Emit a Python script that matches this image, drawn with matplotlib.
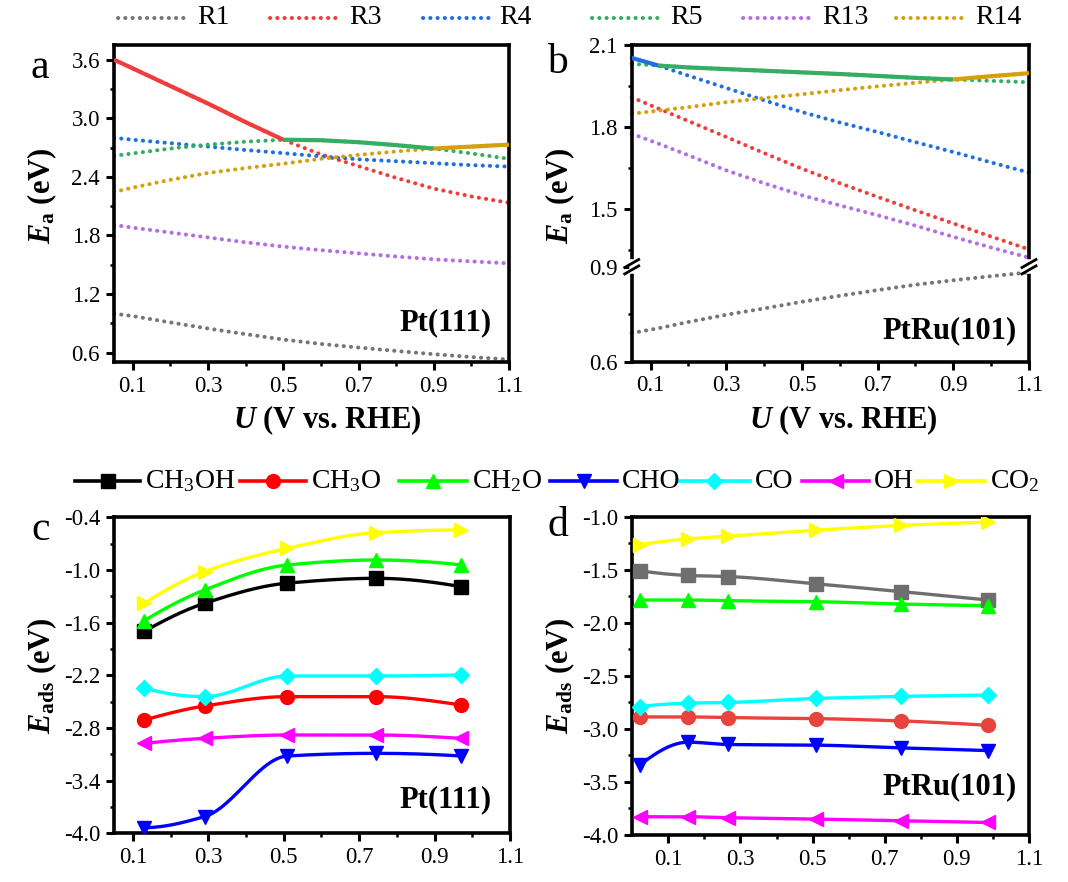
import numpy as np
import matplotlib
matplotlib.use("Agg")
import matplotlib.pyplot as plt
from matplotlib.lines import Line2D
from matplotlib.ticker import MultipleLocator, FixedLocator

plt.rcParams['font.family'] = ['Liberation Serif', 'DejaVu Serif']
plt.rcParams['mathtext.fontset'] = 'custom'
plt.rcParams['mathtext.rm'] = 'Liberation Serif'
plt.rcParams['mathtext.it'] = 'Liberation Serif:italic'
plt.rcParams['mathtext.bf'] = 'Liberation Serif:bold'
plt.rcParams['mathtext.bfit'] = 'Liberation Serif:italic:bold'
plt.rcParams['axes.unicode_minus'] = False

# ---------------- data : panel a (Pt(111)) ----------------
X_A = [0.05, 0.1, 0.2, 0.3, 0.4, 0.5, 0.6, 0.7, 0.8, 0.9, 1.0, 1.1]
A_R1 = [1.00, 0.975, 0.91, 0.848, 0.79, 0.735, 0.69, 0.653, 0.618, 0.585, 0.556, 0.53]
A_R3 = [3.60, 3.51, 3.33, 3.15, 2.96, 2.78, 2.63, 2.51, 2.39, 2.28, 2.20, 2.135]
A_R4 = [2.80, 2.78, 2.745, 2.71, 2.675, 2.643, 2.61, 2.58, 2.56, 2.54, 2.52, 2.505]
A_R5 = [2.615, 2.64, 2.69, 2.73, 2.76, 2.78, 2.775, 2.755, 2.725, 2.69, 2.64, 2.585]
A_R13 = [1.908, 1.88, 1.83, 1.78, 1.73, 1.686, 1.65, 1.617, 1.585, 1.556, 1.535, 1.515]
A_R14 = [2.245, 2.29, 2.37, 2.44, 2.49, 2.535, 2.585, 2.625, 2.66, 2.69, 2.71, 2.73]
# rate-limiting envelope: (reaction, from U, to U)
A_LIMIT = [("R3", 0.05, 0.5), ("R5", 0.5, 0.9), ("R14", 0.9, 1.1)]

# ---------------- data : panel b (PtRu(101)) ----------------
X_B = [0.05, 0.12, 0.2, 0.3, 0.4, 0.5, 0.6, 0.7, 0.8, 0.9, 1.0, 1.1]
B_R1 = [0.69, 0.705, 0.725, 0.748, 0.768, 0.789, 0.808, 0.826, 0.843, 0.857, 0.87, 0.882]
B_R3 = [1.909, 1.868, 1.822, 1.764, 1.705, 1.648, 1.595, 1.545, 1.496, 1.448, 1.40, 1.353]
B_R4 = [2.053, 2.025, 1.988, 1.943, 1.898, 1.855, 1.817, 1.782, 1.745, 1.709, 1.671, 1.634]
B_R5 = [2.031, 2.025, 2.018, 2.012, 2.006, 2.0, 1.994, 1.987, 1.98, 1.974, 1.969, 1.964]
B_R13 = [1.776, 1.74, 1.697, 1.642, 1.595, 1.551, 1.514, 1.478, 1.44, 1.399, 1.36, 1.323]
B_R14 = [1.849, 1.86, 1.873, 1.891, 1.906, 1.92, 1.935, 1.949, 1.962, 1.974, 1.986, 1.997]
B_LIMIT = [("R4", 0.05, 0.12), ("R5", 0.12, 0.9), ("R14", 0.9, 1.1)]

REACTIONS = ["R1", "R3", "R4", "R5", "R13", "R14"]
R_COLORS = {"R1": "#767676", "R3": "#f03c3c", "R4": "#1f6fe0",
            "R5": "#35ad62", "R13": "#b26fe3", "R14": "#d4a00c"}

# ---------------- data : panel c (Pt(111)) ----------------
X_C = [0.13, 0.29, 0.51, 0.745, 0.97]
C_CH3OH = [-1.70, -1.38, -1.15, -1.095, -1.19]
C_CH3O = [-2.71, -2.55, -2.443, -2.443, -2.538]
C_CH2O = [-1.577, -1.228, -0.943, -0.886, -0.943]
C_CHO = [-3.936, -3.81, -3.119, -3.089, -3.119]
C_CO = [-2.341, -2.443, -2.208, -2.208, -2.196]
C_OH = [-2.975, -2.918, -2.88, -2.88, -2.918]
C_CO2 = [-1.38, -1.019, -0.753, -0.575, -0.544]

# ---------------- data : panel d (PtRu(101)) ----------------
X_D = [0.02, 0.155, 0.265, 0.51, 0.745, 0.985]
D_CH3OH = [-1.51, -1.554, -1.564, -1.633, -1.706, -1.785]
D_CH3O = [-2.887, -2.887, -2.894, -2.903, -2.925, -2.966]
D_CH2O = [-1.785, -1.785, -1.792, -1.801, -1.823, -1.839]
D_CHO = [-3.343, -3.125, -3.147, -3.153, -3.179, -3.204]
D_CO = [-2.789, -2.757, -2.751, -2.713, -2.694, -2.681]
D_OH = [-3.828, -3.828, -3.837, -3.85, -3.866, -3.882]
D_CO2 = [-1.263, -1.209, -1.184, -1.127, -1.082, -1.051]

SPECIES = ["CH3OH", "CH3O", "CH2O", "CHO", "CO", "OH", "CO2"]
SP_LABELS = {"CH3OH": "CH$_3$OH", "CH3O": "CH$_3$O", "CH2O": "CH$_2$O",
             "CHO": "CHO", "CO": "CO", "OH": "OH", "CO2": "CO$_2$"}
SP_MARKERS = {"CH3OH": "s", "CH3O": "o", "CH2O": "^", "CHO": "v",
              "CO": "D", "OH": "<", "CO2": ">"}
SP_COLORS_C = {"CH3OH": "#000000", "CH3O": "#ff0000", "CH2O": "#00ff00",
               "CHO": "#0000ff", "CO": "#00ffff", "OH": "#ff00ff", "CO2": "#ffff00"}
SP_COLORS_D = {"CH3OH": "#6e6e6e", "CH3O": "#e8433c", "CH2O": "#00ff00",
               "CHO": "#0000ff", "CO": "#00ffff", "OH": "#ff00ff", "CO2": "#ffff00"}

W, H = 1068, 882
fig = plt.figure(figsize=(W / 100, H / 100), dpi=100)


def fx(px):
    return px / W


def fy(py):
    return 1 - py / H


def add_ax(l, t, r, b):
    return fig.add_axes([fx(l), fy(b), fx(r) - fx(l), fy(t) - fy(b)])


DOT = dict(linestyle=(0, (0.05, 1.75)), dash_capstyle='round', linewidth=2.9)
SPINE_W = 2.6
TICK_FS = 16.5


def style(ax):
    for s in ax.spines.values():
        s.set_linewidth(SPINE_W)
    ax.tick_params(which='major', direction='out', length=6, width=2.2,
                   labelsize=TICK_FS, top=False, right=False, pad=4)
    ax.tick_params(which='minor', direction='out', length=3, width=1.8,
                   top=False, right=False)


def pchip(x, y, n=200):
    """Shape-preserving cubic curve through the given points (drawing only)."""
    x = np.asarray(x, float)
    y = np.asarray(y, float)
    N = len(x)
    h = np.diff(x)
    delta = np.diff(y) / h
    d = np.zeros(N)
    for k in range(1, N - 1):
        if delta[k - 1] * delta[k] <= 0:
            d[k] = 0.0
        else:
            w1 = 2 * h[k] + h[k - 1]
            w2 = h[k] + 2 * h[k - 1]
            d[k] = (w1 + w2) / (w1 / delta[k - 1] + w2 / delta[k])

    def end(h0, h1, d0, d1):
        v = ((2 * h0 + h1) * d0 - h0 * d1) / (h0 + h1)
        if np.sign(v) != np.sign(d0):
            v = 0.0
        elif np.sign(d0) != np.sign(d1) and abs(v) > abs(3 * d0):
            v = 3 * d0
        return v
    d[0] = end(h[0], h[1], delta[0], delta[1])
    d[-1] = end(h[-1], h[-2], delta[-1], delta[-2])
    xs = np.linspace(x[0], x[-1], n)
    idx = np.clip(np.searchsorted(x, xs) - 1, 0, N - 2)
    hi = h[idx]
    t = (xs - x[idx]) / hi
    h00 = 2 * t ** 3 - 3 * t ** 2 + 1
    h10 = t ** 3 - 2 * t ** 2 + t
    h01 = -2 * t ** 3 + 3 * t ** 2
    h11 = t ** 3 - t ** 2
    ys = h00 * y[idx] + h10 * hi * d[idx] + h01 * y[idx + 1] + h11 * hi * d[idx + 1]
    return xs, ys


def draw_limit(axes_for, xgrid, series, limits):
    xg = np.asarray(xgrid)
    for name, x0, x1 in limits:
        m = (xg >= x0 - 1e-9) & (xg <= x1 + 1e-9)
        ax = axes_for(name)
        ax.plot(xg[m], np.asarray(series[name])[m], color=R_COLORS[name],
                lw=3.0, solid_capstyle='butt', solid_joinstyle='round', zorder=4)


def fmt(ax, axis='both'):
    f = plt.FuncFormatter(lambda v, p: f"{v:.1f}")
    if axis in ('both', 'x'):
        ax.xaxis.set_major_formatter(f)
    if axis in ('both', 'y'):
        ax.yaxis.set_major_formatter(f)


XMAJ = [0.1, 0.3, 0.5, 0.7, 0.9, 1.1]
XMIN = [0.2, 0.4, 0.6, 0.8, 1.0]

# ================= panel a =================
axa = add_ax(114, 45, 509, 362)
style(axa)
ser_a = {"R1": A_R1, "R3": A_R3, "R4": A_R4, "R5": A_R5, "R13": A_R13, "R14": A_R14}
for k in REACTIONS:
    axa.plot(X_A, ser_a[k], color=R_COLORS[k], **DOT)
draw_limit(lambda n: axa, X_A, ser_a, A_LIMIT)
axa.set_xlim(0.05, 1.1)
axa.set_ylim(0.505, 3.75)
axa.xaxis.set_major_locator(FixedLocator(XMAJ))
axa.xaxis.set_minor_locator(FixedLocator(XMIN))
axa.yaxis.set_major_locator(MultipleLocator(0.6))
axa.yaxis.set_minor_locator(FixedLocator([0.9, 1.5, 2.1, 2.7, 3.3]))
fmt(axa)

# ================= panel b (broken axis) =================
axb_hi = add_ax(631.7, 45, 1029, 266.7)
axb_lo = add_ax(631.7, 266.7, 1029, 361.5)
for ax in (axb_hi, axb_lo):
    style(ax)
    ax.set_xlim(0.05, 1.1)
axb_hi.spines['bottom'].set_visible(False)
axb_lo.spines['top'].set_visible(False)
axb_hi.tick_params(which='both', bottom=False, labelbottom=False)
ser_b = {"R1": B_R1, "R3": B_R3, "R4": B_R4, "R5": B_R5, "R13": B_R13, "R14": B_R14}
for k in REACTIONS:
    target = axb_lo if k == "R1" else axb_hi
    target.plot(X_B, ser_b[k], color=R_COLORS[k], clip_on=False, **DOT)
draw_limit(lambda n: axb_lo if n == "R1" else axb_hi, X_B, ser_b, B_LIMIT)
axb_hi.set_ylim(1.29, 2.1)
axb_lo.set_ylim(0.6, 0.9)
axb_hi.yaxis.set_major_locator(FixedLocator([1.5, 1.8, 2.1]))
axb_hi.yaxis.set_minor_locator(FixedLocator([1.35, 1.65, 1.95]))
axb_lo.yaxis.set_major_locator(FixedLocator([0.6, 0.9]))
axb_lo.yaxis.set_minor_locator(FixedLocator([0.75]))
axb_lo.xaxis.set_major_locator(FixedLocator(XMAJ))
axb_lo.xaxis.set_minor_locator(FixedLocator(XMIN))
fmt(axb_hi, 'y')
fmt(axb_lo)

# break marks
for bx in (631.7, 1029):
    fig.add_artist(Line2D([fx(bx), fx(bx)], [fy(262), fy(271)], color='white',
                          lw=4, transform=fig.transFigure, zorder=10))
    for off in (-3.2, 3.2):
        fig.add_artist(Line2D([fx(bx - 7), fx(bx + 7)], [fy(266.7 + off + 4), fy(266.7 + off - 4)],
                              color='black', lw=2.0, transform=fig.transFigure, zorder=11))

# ================= panel c =================
axc = add_ax(114, 517.3, 510, 833.3)
style(axc)
ser_c = {"CH3OH": C_CH3OH, "CH3O": C_CH3O, "CH2O": C_CH2O, "CHO": C_CHO,
         "CO": C_CO, "OH": C_OH, "CO2": C_CO2}
for k in SPECIES:
    xs, ys = pchip(X_C, ser_c[k])
    axc.plot(xs, ys, color=SP_COLORS_C[k], lw=2.4, zorder=3)
    axc.plot(X_C, ser_c[k], ls='none', marker=SP_MARKERS[k],
             ms=(8.5 if k == "CO" else 10), color=SP_COLORS_C[k], zorder=4)
axc.set_xlim(0.05, 1.1)
axc.set_ylim(-4.0, -0.4)
axc.xaxis.set_major_locator(FixedLocator(XMAJ))
axc.xaxis.set_minor_locator(FixedLocator(XMIN))
axc.yaxis.set_major_locator(FixedLocator([-4.0, -3.4, -2.8, -2.2, -1.6, -1.0, -0.4]))
axc.yaxis.set_minor_locator(FixedLocator([-3.7, -3.1, -2.5, -1.9, -1.3, -0.7]))
fmt(axc)

# ================= panel d =================
axd = add_ax(632.3, 516.7, 1029, 835)
style(axd)
ser_d = {"CH3OH": D_CH3OH, "CH3O": D_CH3O, "CH2O": D_CH2O, "CHO": D_CHO,
         "CO": D_CO, "OH": D_OH, "CO2": D_CO2}
for k in SPECIES:
    xs, ys = pchip(X_D, ser_d[k])
    axd.plot(xs, ys, color=SP_COLORS_D[k], lw=2.4, zorder=3)
    axd.plot(X_D, ser_d[k], ls='none', marker=SP_MARKERS[k],
             ms=(8.5 if k == "CO" else 10), color=SP_COLORS_D[k], zorder=4)
axd.set_xlim(0.0, 1.1)
axd.set_ylim(-4.0, -1.0)
axd.xaxis.set_major_locator(FixedLocator(XMAJ))
axd.xaxis.set_minor_locator(FixedLocator(XMIN))
axd.yaxis.set_major_locator(MultipleLocator(0.5))
axd.yaxis.set_minor_locator(FixedLocator([-3.75, -3.25, -2.75, -2.25, -1.75, -1.25]))
fmt(axd)

# ================= texts =================
LAB_FS = 22
ylab_a = r'$\mathbfit{E}_{\mathbf{a}}$ (eV)'
ylab_c = r'$\mathbfit{E}_{\mathbf{ads}}$ (eV)'
xlab = r'$\mathbfit{U}$ (V vs. RHE)'
fig.text(fx(42), fy(196), ylab_a, rotation=90, ha='center', va='center', fontsize=LAB_FS, fontweight='bold')
fig.text(fx(560), fy(196), ylab_a, rotation=90, ha='center', va='center', fontsize=LAB_FS, fontweight='bold')
fig.text(fx(42), fy(676), ylab_c, rotation=90, ha='center', va='center', fontsize=LAB_FS, fontweight='bold')
fig.text(fx(560), fy(676), ylab_c, rotation=90, ha='center', va='center', fontsize=LAB_FS, fontweight='bold')
fig.text(fx(327), fy(420), xlab, ha='center', va='center', fontsize=LAB_FS, fontweight='bold')
fig.text(fx(843), fy(420), xlab, ha='center', va='center', fontsize=LAB_FS, fontweight='bold')

LET_FS = 30
fig.text(fx(40), fy(68), "a", ha='center', va='center', fontsize=LET_FS)
fig.text(fx(557), fy(63), "b", ha='center', va='center', fontsize=LET_FS)
fig.text(fx(41), fy(530), "c", ha='center', va='center', fontsize=LET_FS)
fig.text(fx(558), fy(526), "d", ha='center', va='center', fontsize=LET_FS)

SURF_FS = 22
fig.text(fx(446), fy(323), "Pt(111)", ha='center', va='center', fontsize=SURF_FS, fontweight='bold')
fig.text(fx(950), fy(331), "PtRu(101)", ha='center', va='center', fontsize=SURF_FS, fontweight='bold')
fig.text(fx(446), fy(800), "Pt(111)", ha='center', va='center', fontsize=SURF_FS, fontweight='bold')
fig.text(fx(950), fy(787), "PtRu(101)", ha='center', va='center', fontsize=SURF_FS, fontweight='bold')

# ---------------- legend row 1 ----------------
LEG_FS = 20
leg1 = {"R1": (118, 188), "R3": (270, 340), "R4": (423, 490),
        "R5": (592, 661), "R13": (743, 813), "R14": (896, 966)}
for k in REACTIONS:
    x0, x1 = leg1[k]
    fig.add_artist(Line2D([fx(x0), fx(x1)], [fy(18), fy(18)], color=R_COLORS[k],
                          transform=fig.transFigure, **DOT))
    fig.text(fx(x1 + 9), fy(18), k, ha='left', va='center', fontsize=LEG_FS)

# ---------------- legend row 2 ----------------
leg2 = {"CH3OH": (75, 140), "CH3O": (240, 306), "CH2O": (399, 467), "CHO": (550, 617),
        "CO": (677, 750), "OH": (802, 869), "CO2": (917, 985)}
for k in SPECIES:
    x0, x1 = leg2[k]
    fig.add_artist(Line2D([fx(x0), fx((x0 + x1) / 2), fx(x1)], [fy(481)] * 3,
                          color=SP_COLORS_C[k], lw=2.6, marker=SP_MARKERS[k],
                          markevery=[1], ms=(8.5 if k == "CO" else 10),
                          transform=fig.transFigure))
    fig.text(fx(x1 + 5), fy(481), SP_LABELS[k], ha='left', va='center', fontsize=LEG_FS)

fig.savefig("out.png", dpi=100)
